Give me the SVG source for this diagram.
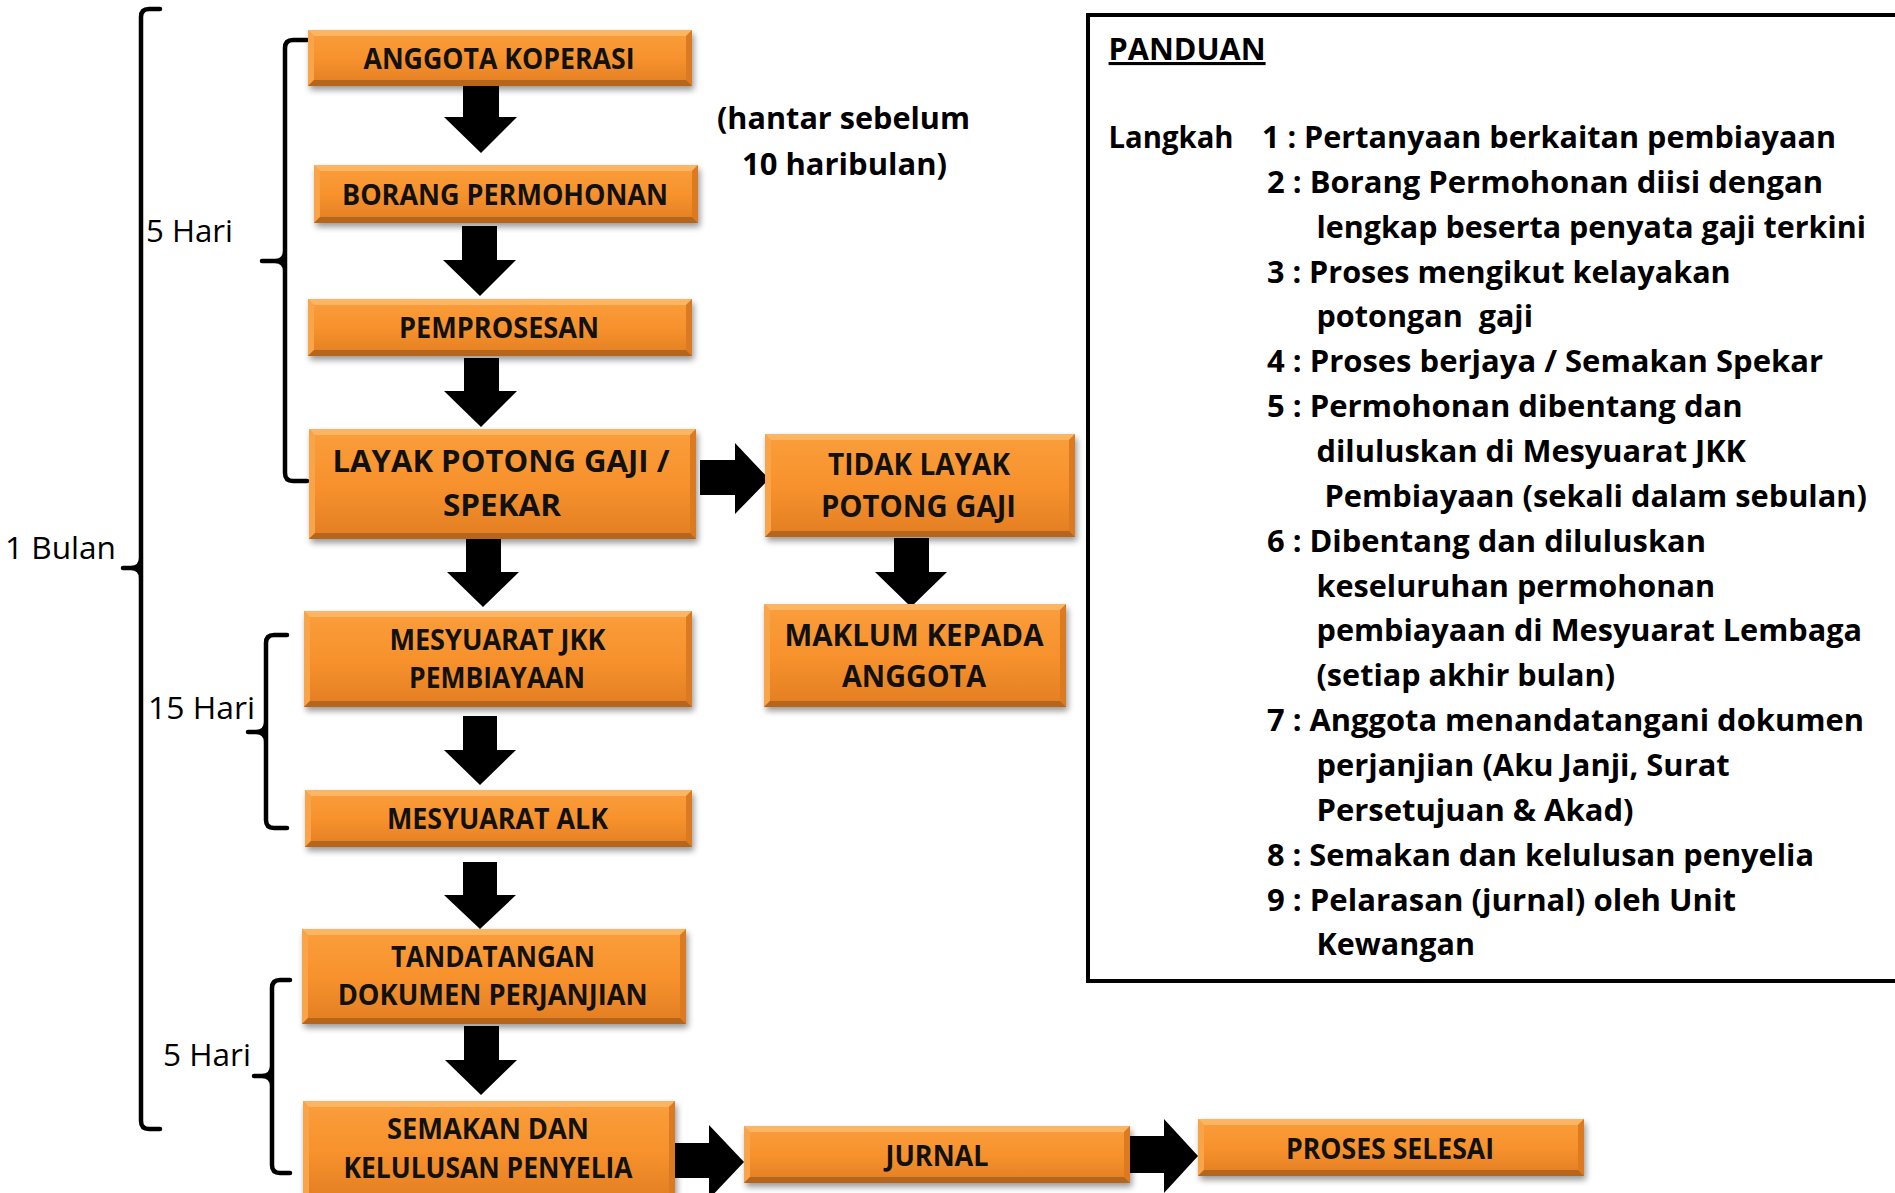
<svg xmlns="http://www.w3.org/2000/svg" width="1895" height="1193" viewBox="0 0 1895 1193">
<defs>
<linearGradient id="face" x1="0" y1="0" x2="0" y2="1">
<stop offset="0" stop-color="#FA9E3C"/>
<stop offset="0.5" stop-color="#F7922D"/>
<stop offset="1" stop-color="#E27E22"/>
</linearGradient>
<filter id="sh" x="-10%" y="-20%" width="120%" height="160%">
<feGaussianBlur stdDeviation="3"/>
</filter>
</defs>
<style>
.shadow{fill:#000;opacity:0.4}
.face{fill:url(#face)}
.bt{fill:#FCB563}
.bl{fill:#F9A449}
.br{fill:#DC7A22}
.bb{fill:#B5651C}
.bx{font-family:"Open Sans","Liberation Sans",sans-serif;font-weight:700;fill:#111;text-anchor:middle}
.lbl{font-family:"Open Sans","Liberation Sans",sans-serif;font-weight:400;fill:#000;font-size:31px}
.pd{font-family:"Open Sans","Liberation Sans",sans-serif;font-weight:700;fill:#000;font-size:31px;white-space:pre}
.br2{fill:none;stroke:#000;stroke-width:4.5;stroke-linecap:round;stroke-linejoin:round}
.arr{fill:#000}
</style>

<g id="brackets">
<path class="br2" d="M160,9 H149 Q141,9 141,17 V1121 Q141,1129 149,1129 H160 M141,558 Q141,568 131,568 H123 M141,578 Q141,568 131,568"/>
<path class="br2" d="M307,40 H293 Q285,40 285,48 V473 Q285,481 293,481 H307 M285,251 Q285,261 275,261 H262 M285,271 Q285,261 275,261"/>
<path class="br2" d="M287,635 H274 Q266,635 266,643 V820 Q266,828 274,828 H287 M266,722 Q266,732 256,732 H248 M266,742 Q266,732 256,732"/>
<path class="br2" d="M290,980 H280 Q272,980 272,988 V1165 Q272,1173 280,1173 H290 M272,1066 Q272,1076 262,1076 H254 M272,1086 Q272,1076 262,1076"/>
<text class="lbl" x="5" y="559" textLength="111" lengthAdjust="spacingAndGlyphs">1 Bulan</text>
<text class="lbl" x="146" y="242" textLength="87" lengthAdjust="spacingAndGlyphs">5 Hari</text>
<text class="lbl" x="148" y="719" textLength="107" lengthAdjust="spacingAndGlyphs">15 Hari</text>
<text class="lbl" x="163" y="1066" textLength="88" lengthAdjust="spacingAndGlyphs">5 Hari</text>
</g>

<g id="connectors">
<polygon class="arr" points="463,84 499,84 499,117 517,117 481,153 444,117 463,117"/>
<polygon class="arr" points="462,226 497,226 497,260 516,260 480,296 443,260 462,260"/>
<polygon class="arr" points="464,358 499,358 499,391 517,391 481,427 444,391 464,391"/>
<polygon class="arr" points="466,538 501,538 501,572 519,572 483,607 447,572 466,572"/>
<polygon class="arr" points="894,538 929,538 929,572 947,572 911,607 875,572 894,572"/>
<polygon class="arr" points="463,716 497,716 497,750 516,750 480,785 444,750 463,750"/>
<polygon class="arr" points="463,862 497,862 497,895 516,895 480,929 444,895 463,895"/>
<polygon class="arr" points="464,1026 499,1026 499,1060 517,1060 481,1095 445,1060 464,1060"/>
<polygon class="arr" points="700,460 735,460 735,443 769,479 735,514 735,495 700,495"/>
<polygon class="arr" points="674,1143 709,1143 709,1125 744,1162 709,1199 709,1178 674,1178"/>
<polygon class="arr" points="1130,1136 1164,1136 1164,1119 1198,1156 1164,1193 1164,1173 1130,1173"/>
</g>

<g id="n1" transform="translate(308,30)">
<rect class="shadow" x="2" y="4" width="384" height="56" filter="url(#sh)"/>
<rect class="face" width="384" height="56"/>
<polygon class="bt" points="0,0 384,0 378,6 6,6"/><polygon class="bl" points="0,0 6,6 6,50 0,56"/><polygon class="br" points="384,0 384,56 378,50 378,6"/><polygon class="bb" points="0,56 6,50 378,50 384,56"/>
<text class="bx" x="191" y="38.6" font-size="28" textLength="271" lengthAdjust="spacingAndGlyphs">ANGGOTA KOPERASI</text>
</g>
<g id="n2" transform="translate(314,165)">
<rect class="shadow" x="2" y="4" width="384" height="58" filter="url(#sh)"/>
<rect class="face" width="384" height="58"/>
<polygon class="bt" points="0,0 384,0 378,6 6,6"/><polygon class="bl" points="0,0 6,6 6,52 0,58"/><polygon class="br" points="384,0 384,58 378,52 378,6"/><polygon class="bb" points="0,58 6,52 378,52 384,58"/>
<text class="bx" x="191" y="39.6" font-size="28" textLength="326" lengthAdjust="spacingAndGlyphs">BORANG PERMOHONAN</text>
</g>
<g id="n3" transform="translate(308,299)">
<rect class="shadow" x="2" y="4" width="384" height="57" filter="url(#sh)"/>
<rect class="face" width="384" height="57"/>
<polygon class="bt" points="0,0 384,0 378,6 6,6"/><polygon class="bl" points="0,0 6,6 6,51 0,57"/><polygon class="br" points="384,0 384,57 378,51 378,6"/><polygon class="bb" points="0,57 6,51 378,51 384,57"/>
<text class="bx" x="191" y="38.5" font-size="28" textLength="200" lengthAdjust="spacingAndGlyphs">PEMPROSESAN</text>
</g>
<g id="n4" transform="translate(309,429)">
<rect class="shadow" x="2" y="4" width="387" height="110" filter="url(#sh)"/>
<rect class="face" width="387" height="110"/>
<polygon class="bt" points="0,0 387,0 381,6 6,6"/><polygon class="bl" points="0,0 6,6 6,104 0,110"/><polygon class="br" points="387,0 387,110 381,104 381,6"/><polygon class="bb" points="0,110 6,104 381,104 387,110"/>
<text class="bx" x="192" y="42.5" font-size="31" textLength="337" lengthAdjust="spacingAndGlyphs">LAYAK POTONG GAJI /</text>
<text class="bx" x="193" y="87.3" font-size="31" textLength="118" lengthAdjust="spacingAndGlyphs">SPEKAR</text>
</g>
<g id="n5" transform="translate(765,434)">
<rect class="shadow" x="2" y="4" width="310" height="103" filter="url(#sh)"/>
<rect class="face" width="310" height="103"/>
<polygon class="bt" points="0,0 310,0 304,6 6,6"/><polygon class="bl" points="0,0 6,6 6,97 0,103"/><polygon class="br" points="310,0 310,103 304,97 304,6"/><polygon class="bb" points="0,103 6,97 304,97 310,103"/>
<text class="bx" x="154" y="41" font-size="30" textLength="182" lengthAdjust="spacingAndGlyphs">TIDAK LAYAK</text>
<text class="bx" x="153.5" y="82.7" font-size="30" textLength="195" lengthAdjust="spacingAndGlyphs">POTONG GAJI</text>
</g>
<g id="n6" transform="translate(764,604)">
<rect class="shadow" x="2" y="4" width="302" height="103" filter="url(#sh)"/>
<rect class="face" width="302" height="103"/>
<polygon class="bt" points="0,0 302,0 296,6 6,6"/><polygon class="bl" points="0,0 6,6 6,97 0,103"/><polygon class="br" points="302,0 302,103 296,97 296,6"/><polygon class="bb" points="0,103 6,97 296,97 302,103"/>
<text class="bx" x="150" y="41.7" font-size="30" textLength="259" lengthAdjust="spacingAndGlyphs">MAKLUM KEPADA</text>
<text class="bx" x="150" y="83" font-size="30" textLength="144" lengthAdjust="spacingAndGlyphs">ANGGOTA</text>
</g>
<g id="n7" transform="translate(304,611)">
<rect class="shadow" x="2" y="4" width="388" height="96" filter="url(#sh)"/>
<rect class="face" width="388" height="96"/>
<polygon class="bt" points="0,0 388,0 382,6 6,6"/><polygon class="bl" points="0,0 6,6 6,90 0,96"/><polygon class="br" points="388,0 388,96 382,90 382,6"/><polygon class="bb" points="0,96 6,90 382,90 388,96"/>
<text class="bx" x="193.4" y="39" font-size="28.5" textLength="216" lengthAdjust="spacingAndGlyphs">MESYUARAT JKK</text>
<text class="bx" x="193" y="77" font-size="28.5" textLength="176" lengthAdjust="spacingAndGlyphs">PEMBIAYAAN</text>
</g>
<g id="n8" transform="translate(305,790)">
<rect class="shadow" x="2" y="4" width="387" height="57" filter="url(#sh)"/>
<rect class="face" width="387" height="57"/>
<polygon class="bt" points="0,0 387,0 381,6 6,6"/><polygon class="bl" points="0,0 6,6 6,51 0,57"/><polygon class="br" points="387,0 387,57 381,51 381,6"/><polygon class="bb" points="0,57 6,51 381,51 387,57"/>
<text class="bx" x="192.5" y="38.5" font-size="28.5" textLength="221" lengthAdjust="spacingAndGlyphs">MESYUARAT ALK</text>
</g>
<g id="n9" transform="translate(302,929)">
<rect class="shadow" x="2" y="4" width="384" height="95" filter="url(#sh)"/>
<rect class="face" width="384" height="95"/>
<polygon class="bt" points="0,0 384,0 378,6 6,6"/><polygon class="bl" points="0,0 6,6 6,89 0,95"/><polygon class="br" points="384,0 384,95 378,89 378,6"/><polygon class="bb" points="0,95 6,89 378,89 384,95"/>
<text class="bx" x="191" y="37.5" font-size="28.5" textLength="204" lengthAdjust="spacingAndGlyphs">TANDATANGAN</text>
<text class="bx" x="190.7" y="76" font-size="28.5" textLength="310" lengthAdjust="spacingAndGlyphs">DOKUMEN PERJANJIAN</text>
</g>
<g id="n10" transform="translate(303,1101)">
<rect class="shadow" x="2" y="4" width="372" height="100" filter="url(#sh)"/>
<rect class="face" width="372" height="100"/>
<polygon class="bt" points="0,0 372,0 366,6 6,6"/><polygon class="bl" points="0,0 6,6 6,94 0,100"/><polygon class="br" points="372,0 372,100 366,94 366,6"/><polygon class="bb" points="0,100 6,94 366,94 372,100"/>
<text class="bx" x="185" y="38" font-size="28.5" textLength="202" lengthAdjust="spacingAndGlyphs">SEMAKAN DAN</text>
<text class="bx" x="185" y="76.7" font-size="28.5" textLength="289" lengthAdjust="spacingAndGlyphs">KELULUSAN PENYELIA</text>
</g>
<g id="n11" transform="translate(744,1126)">
<rect class="shadow" x="2" y="4" width="386" height="57" filter="url(#sh)"/>
<rect class="face" width="386" height="57"/>
<polygon class="bt" points="0,0 386,0 380,6 6,6"/><polygon class="bl" points="0,0 6,6 6,51 0,57"/><polygon class="br" points="386,0 386,57 380,51 380,6"/><polygon class="bb" points="0,57 6,51 380,51 386,57"/>
<text class="bx" x="193" y="40" font-size="28.5" textLength="103" lengthAdjust="spacingAndGlyphs">JURNAL</text>
</g>
<g id="n12" transform="translate(1198,1119)">
<rect class="shadow" x="2" y="4" width="386" height="57" filter="url(#sh)"/>
<rect class="face" width="386" height="57"/>
<polygon class="bt" points="0,0 386,0 380,6 6,6"/><polygon class="bl" points="0,0 6,6 6,51 0,57"/><polygon class="br" points="386,0 386,57 380,51 380,6"/><polygon class="bb" points="0,57 6,51 380,51 386,57"/>
<text class="bx" x="192" y="40" font-size="28.5" textLength="208" lengthAdjust="spacingAndGlyphs">PROSES SELESAI</text>
</g>

<g id="note">
<text class="pd" x="717" y="129" font-size="32" textLength="253" lengthAdjust="spacingAndGlyphs">(hantar sebelum</text>
<text class="pd" x="742" y="175" font-size="32" textLength="205" lengthAdjust="spacingAndGlyphs">10 haribulan)</text>
</g>

<g id="panduan">
<rect x="1088" y="15" width="860" height="966" fill="none" stroke="#000" stroke-width="4"/>
<text class="pd" x="1108.6" y="60" font-size="32" text-decoration="underline" textLength="157" lengthAdjust="spacingAndGlyphs">PANDUAN</text>
<text class="pd" x="1108.6" y="148" textLength="125" lengthAdjust="spacingAndGlyphs">Langkah</text>
<text class="pd" x="1262" y="148" textLength="574" lengthAdjust="spacingAndGlyphs">1 : Pertanyaan berkaitan pembiayaan</text>
<text class="pd" x="1267" y="192.9" textLength="556" lengthAdjust="spacingAndGlyphs">2 : Borang Permohonan diisi dengan</text>
<text class="pd" x="1316.5" y="237.7" textLength="549.5" lengthAdjust="spacingAndGlyphs">lengkap beserta penyata gaji terkini</text>
<text class="pd" x="1267" y="282.6" textLength="463.7" lengthAdjust="spacingAndGlyphs">3 : Proses mengikut kelayakan</text>
<text class="pd" x="1316.5" y="327.4" textLength="216.5" lengthAdjust="spacingAndGlyphs">potongan  gaji</text>
<text class="pd" x="1267" y="372.3" textLength="556" lengthAdjust="spacingAndGlyphs">4 : Proses berjaya / Semakan Spekar</text>
<text class="pd" x="1267" y="417.1" textLength="475.7" lengthAdjust="spacingAndGlyphs">5 : Permohonan dibentang dan</text>
<text class="pd" x="1316.5" y="462" textLength="429.5" lengthAdjust="spacingAndGlyphs">diluluskan di Mesyuarat JKK</text>
<text class="pd" x="1324.5" y="506.8" textLength="542.5" lengthAdjust="spacingAndGlyphs">Pembiayaan (sekali dalam sebulan)</text>
<text class="pd" x="1267" y="551.7" textLength="439" lengthAdjust="spacingAndGlyphs">6 : Dibentang dan diluluskan</text>
<text class="pd" x="1316.5" y="596.5" textLength="398.5" lengthAdjust="spacingAndGlyphs">keseluruhan permohonan</text>
<text class="pd" x="1316.5" y="641.4" textLength="545.5" lengthAdjust="spacingAndGlyphs">pembiayaan di Mesyuarat Lembaga</text>
<text class="pd" x="1316.5" y="686.2" textLength="298.5" lengthAdjust="spacingAndGlyphs">(setiap akhir bulan)</text>
<text class="pd" x="1267" y="731.1" textLength="597" lengthAdjust="spacingAndGlyphs">7 : Anggota menandatangani dokumen</text>
<text class="pd" x="1316.5" y="775.9" textLength="413.2" lengthAdjust="spacingAndGlyphs">perjanjian (Aku Janji, Surat</text>
<text class="pd" x="1316.5" y="820.8" textLength="317" lengthAdjust="spacingAndGlyphs">Persetujuan &amp; Akad)</text>
<text class="pd" x="1267" y="865.6" textLength="547" lengthAdjust="spacingAndGlyphs">8 : Semakan dan kelulusan penyelia</text>
<text class="pd" x="1267" y="910.5" textLength="469" lengthAdjust="spacingAndGlyphs">9 : Pelarasan (jurnal) oleh Unit</text>
<text class="pd" x="1316.5" y="955.3" textLength="158.5" lengthAdjust="spacingAndGlyphs">Kewangan</text>
</g>
</svg>
